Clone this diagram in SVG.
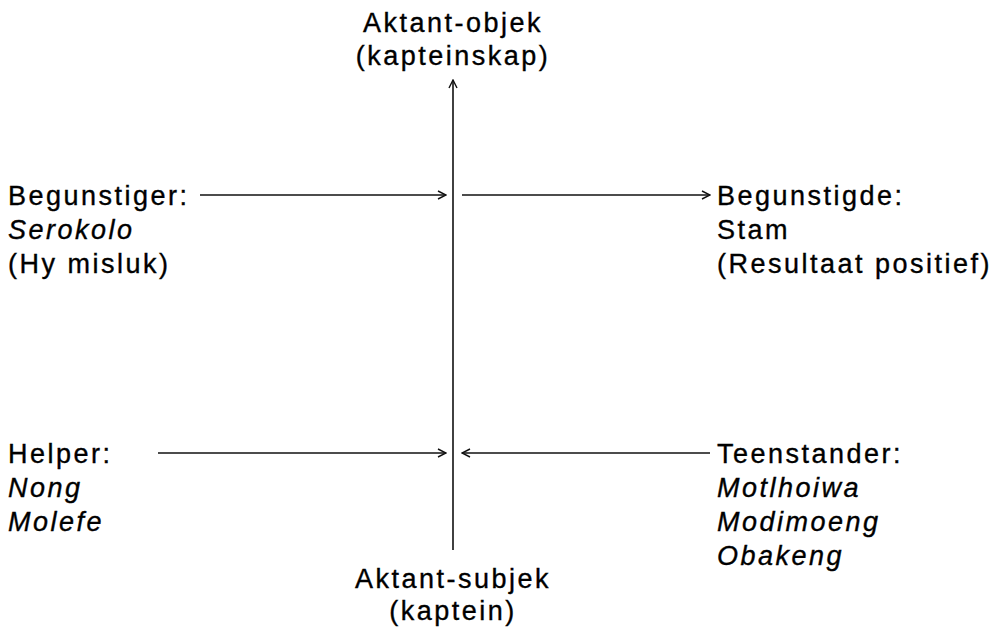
<svg xmlns="http://www.w3.org/2000/svg" width="997" height="627" viewBox="0 0 997 627">
<defs>
<style>
text{font-family:"Liberation Sans",Arial,sans-serif;font-size:27px;fill:#000;stroke:#000;stroke-width:0.35;letter-spacing:2.5px}
.i{font-style:italic}
.c{text-anchor:middle}
.ln{stroke:#111;stroke-width:1.6;fill:none}
</style>
<marker id="ah" viewBox="0 0 10 10" refX="9" refY="5" markerWidth="10" markerHeight="10" markerUnits="userSpaceOnUse" orient="auto">
<path d="M1,1 L9,5 L1,9" fill="none" stroke="#111" stroke-width="1.4"/>
</marker>
</defs>
<rect width="997" height="627" fill="#fff"/>
<g id="connectors">
<line class="ln" x1="453" y1="550" x2="453" y2="80" stroke-width="2" marker-end="url(#ah)"/>
<line class="ln" x1="200" y1="195" x2="446" y2="195" marker-end="url(#ah)"/>
<line class="ln" x1="462" y1="195" x2="710" y2="195" marker-end="url(#ah)"/>
<line class="ln" x1="158" y1="453" x2="446" y2="453" marker-end="url(#ah)"/>
<line class="ln" x1="710" y1="453" x2="462" y2="453" marker-end="url(#ah)"/>
</g>
<g id="objek"><text class="c" x="453" y="32">Aktant-objek</text><text class="c" x="453" y="65">(kapteinskap)</text></g>
<g id="subjek"><text class="c" x="453" y="588">Aktant-subjek</text><text class="c" x="453" y="620">(kaptein)</text></g>
<g id="begunstiger"><text x="8" y="205">Begunstiger:</text><text class="i" x="8" y="239">Serokolo</text><text x="8" y="273">(Hy misluk)</text></g>
<g id="begunstigde"><text x="717" y="205">Begunstigde:</text><text x="717" y="239">Stam</text><text x="717" y="273">(Resultaat positief)</text></g>
<g id="helper"><text x="8" y="463">Helper:</text><text class="i" x="8" y="497">Nong</text><text class="i" x="8" y="531">Molefe</text></g>
<g id="teenstander"><text x="717" y="463">Teenstander:</text><text class="i" x="717" y="497">Motlhoiwa</text><text class="i" x="717" y="531">Modimoeng</text><text class="i" x="717" y="565">Obakeng</text></g>
</svg>
